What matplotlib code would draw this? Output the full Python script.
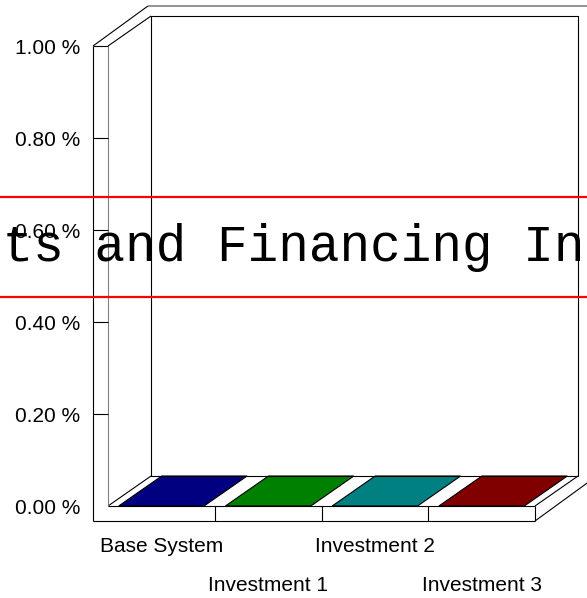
import matplotlib
matplotlib.use("Agg")
import matplotlib.pyplot as plt
from matplotlib.lines import Line2D

plt.rcParams["font.family"] = ["Liberation Sans", "DejaVu Sans"]

# chart data
categories = ["Base System", "Investment 1", "Investment 2", "Investment 3"]
values = [0.0, 0.0, 0.0, 0.0]
bar_colors = ["#000080", "#008000", "#008080", "#800000"]
y_ticks = [0.0, 0.2, 0.4, 0.6, 0.8, 1.0]
y_tick_labels = ["0.00 %", "0.20 %", "0.40 %", "0.60 %", "0.80 %", "1.00 %"]
title = "Investments and Financing Instruments"

W, H = 587, 598
fig = plt.figure(figsize=(W / 100, H / 100), dpi=100)
# front plane of the pseudo-3D box
ax = fig.add_axes([108 / W, 1 - 506 / H, (535 - 108) / W, (506 - 46) / H])
x0, x1 = -0.5, len(categories) - 0.5
ymax = 1.0
ax.set_xlim(x0, x1)
ax.set_ylim(0, ymax)
ax.patch.set_visible(False)
for s in ax.spines.values():
    s.set_visible(False)

DX, DY = 0.403, 0.0652   # floor depth offset
OX, OY = 0.515, 0.087    # outer frame depth offset
TX, TY = 0.1405, 0.0326  # wall / base thickness


def seg(xs, ys, color="black", lw=0.8):
    ax.plot(xs, ys, color=color, lw=lw, clip_on=False, solid_capstyle="butt")


# back wall
seg([x0 + DX, x1 + DX, x1 + DX, x0 + DX, x0 + DX], [DY, DY, ymax + DY, ymax + DY, DY])
# floor
seg([x0, x1], [0, 0])
seg([x0, x0 + DX], [0, DY])
seg([x1, x1 + DX], [0, DY])
# base slab
seg([x0 - TX, x1], [-TY, -TY])
seg([x1, x1], [0, -TY])
seg([x1, x1 + OX * 1.3], [-TY, -TY + OY * 1.3])
for c in range(len(categories) - 1):
    seg([c + 0.5, c + 0.5], [0, -TY])
# left wall
seg([x0 - TX, x0 - TX], [-TY, ymax])
seg([x0 - TX, x0], [ymax, ymax])
seg([x0, x0], [0, ymax], color="#808080")
seg([x0 - TX, x0 - TX + OX], [ymax, ymax + OY])
seg([x0, x0 + DX], [ymax, ymax + DY])
seg([x0 - TX + OX, x1 + OX + 0.6], [ymax + OY, ymax + OY], color="#808080", lw=1.2)
for y in y_ticks[1:-1]:
    seg([x0 - TX, x0], [y, y])

# bars
for i, (v, col) in enumerate(zip(values, bar_colors)):
    xl, xr = i - 0.4, i + 0.4
    if v > 0:
        ax.fill([xl, xr, xr, xl], [0, 0, v, v], color=col, ec="black", lw=0.8, clip_on=False)
        ax.fill([xr, xr + DX, xr + DX, xr], [0, DY, v + DY, v], color=col, ec="black", lw=0.8, clip_on=False)
    ax.fill([xl, xr, xr + DX, xl + DX], [v, v, v + DY, v + DY],
            color=col, ec="black", lw=0.8, clip_on=False)

ax.set_yticks(y_ticks, y_tick_labels)
ax.tick_params(axis="y", length=0, pad=20.2, labelsize=15)
ax.set_xticks(range(len(categories)), categories)
ax.tick_params(axis="x", length=0, labelsize=15)
for i, t in enumerate(ax.xaxis.get_major_ticks()):
    t.set_pad(22.3 if i % 2 == 0 else 50.4)

# title band
for yp in (197, 297):
    fig.add_artist(Line2D([0, 1], [1 - yp / H] * 2, transform=fig.transFigure,
                          color="red", lw=1.6))
fig.text(0.5, 1 - 261 / H, title, ha="center", va="baseline",
         family="Liberation Mono", fontsize=36.7)

fig.savefig("out.png", dpi=100)
